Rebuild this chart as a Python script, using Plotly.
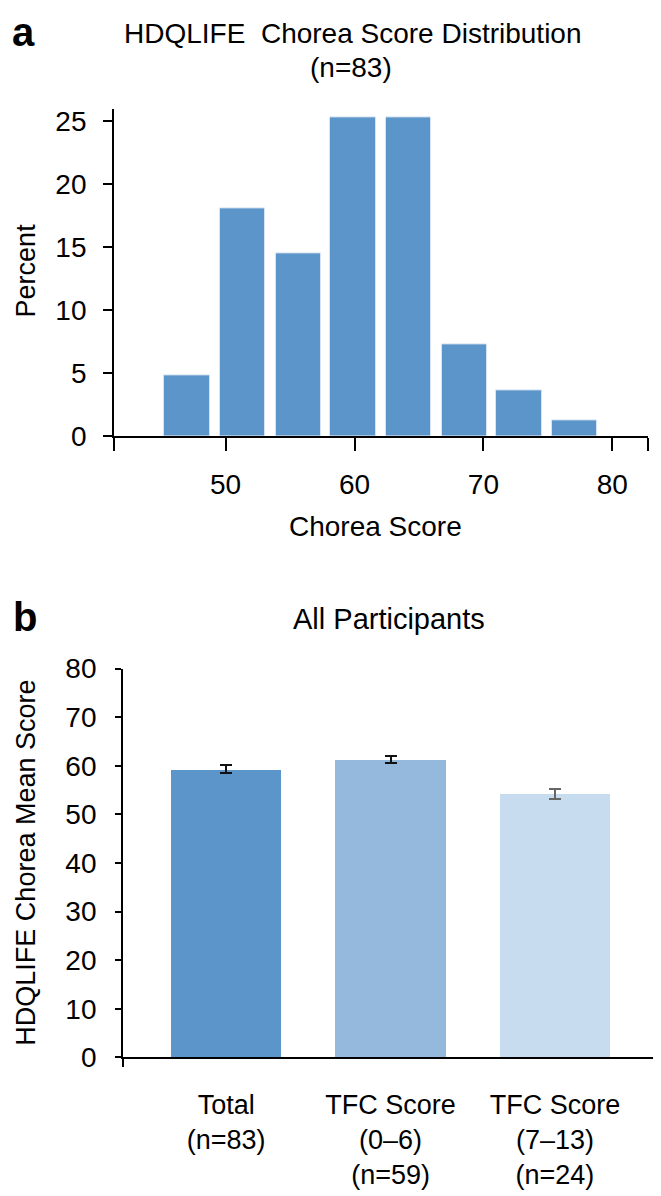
import plotly.graph_objects as go

W, H = 661, 1196
FONT = "Liberation Sans, Arial, sans-serif"
OFF = 8  # page body margin in the browser

# ---------------- Panel a: histogram data ----------------
bin_centers = [47.0, 51.32, 55.65, 59.9, 64.2, 68.53, 72.76, 77.08]
percent = [4.82, 18.07, 14.46, 25.30, 25.30, 7.23, 3.61, 1.20]
xticks_a = [50, 60, 70, 80]
yticks_a = [0, 5, 10, 15, 20, 25]

# ---------------- Panel b: mean scores ----------------
groups = ["Total<br>(n=83)", "TFC Score<br>(0–6)<br>(n=59)", "TFC Score<br>(7–13)<br>(n=24)"]
mean_scores = [59.3, 61.3, 54.2]
sem = [0.8, 0.65, 1.1]
bar_colors = ["#5B95C9", "#94B9DD", "#C7DCEE"]
err_colors = ["#111111", "#111111", "#666666"]
yticks_b = [0, 10, 20, 30, 40, 50, 60, 70, 80]


def px(x):
    return (x - OFF) / W


def py(y):
    return 1 - (y - OFF) / H


fig = go.Figure()

fig.add_trace(go.Bar(
    x=bin_centers, y=percent, width=3.54,
    marker=dict(color="#5B95C9", line=dict(color="#D6E4F2", width=1)),
    xaxis="x", yaxis="y", showlegend=False,
))

for i in range(len(groups)):
    fig.add_trace(go.Bar(
        x=[i], y=[mean_scores[i]], width=0.672,
        marker=dict(color=bar_colors[i], line=dict(width=0)),
        error_y=dict(type="data", array=[sem[i]], visible=True,
                     color=err_colors[i], thickness=2, width=6),
        xaxis="x2", yaxis="y2", showlegend=False,
    ))

axis_common = dict(showline=True, linecolor="black", linewidth=1.8,
                   showgrid=False, zeroline=False, ticks="outside",
                   tickcolor="black", tickwidth=1.8,
                   tickfont=dict(family=FONT, size=28, color="black"))

xa_lo, xa_hi = 41.34, 82.77
xb_lo, xb_hi = -0.628, 2.621

fig.update_layout(
    width=W, height=H,
    margin=dict(l=0, r=0, t=0, b=0),
    paper_bgcolor="white", plot_bgcolor="white",
    font=dict(family=FONT, color="black"),
    bargap=0,
    xaxis=dict(axis_common, domain=[px(114), px(648)], range=[xa_lo, xa_hi],
               anchor="y", tickvals=xticks_a, ticklen=13,
               minor=dict(tickvals=[xa_lo, xa_hi], ticks="outside", ticklen=13,
                          tickcolor="black", tickwidth=1.8),
               ticklabelstandoff=9),
    yaxis=dict(axis_common, domain=[py(432), py(96.7)], range=[0, 25.9],
               anchor="x", tickvals=yticks_a, ticklen=9, ticklabelstandoff=11),
    xaxis2=dict(axis_common, domain=[px(123), px(657)], range=[xb_lo, xb_hi],
                anchor="y2", tickvals=list(range(len(groups))), ticktext=groups,
                tickfont=dict(family=FONT, size=27, color="black"),
                ticks="", minor=dict(tickvals=[xb_lo, xb_hi], ticks="outside",
                                     ticklen=8, tickcolor="black", tickwidth=1.8),
                ticklabelstandoff=22),
    yaxis2=dict(axis_common, domain=[py(1070), py(670.7)], range=[0, 80],
                anchor="x2", tickvals=yticks_b, ticklen=6, ticklabelstandoff=13),
)

ann = [
    dict(text="<b>a</b>", x=px(23), y=py(17), size=40),
    dict(text="HDQLIFE  Chorea Score Distribution", x=px(353), y=py(19), size=28),
    dict(text="(n=83)", x=px(351), y=py(54), size=28),
    dict(text="Chorea Score", x=px(375), y=py(525), size=28),
    dict(text="<b>b</b>", x=px(25), y=py(618), size=40),
    dict(text="All Participants", x=px(389), y=py(620), size=29),
]
for a in ann:
    fig.add_annotation(text=a["text"], x=a["x"], y=a["y"], xref="paper", yref="paper",
                       showarrow=False, xanchor="center", yanchor="middle",
                       font=dict(family=FONT, size=a["size"], color="black"))

fig.add_annotation(text="Percent", x=px(26), y=py(262), xref="paper", yref="paper",
                   showarrow=False, textangle=-90, xanchor="center", yanchor="middle",
                   font=dict(family=FONT, size=27, color="black"))
fig.add_annotation(text="HDQLIFE Chorea Mean Score", x=px(26), y=py(870),
                   xref="paper", yref="paper", showarrow=False, textangle=-90,
                   xanchor="center", yanchor="middle",
                   font=dict(family=FONT, size=27, color="black"))

fig.write_html("out.html")
